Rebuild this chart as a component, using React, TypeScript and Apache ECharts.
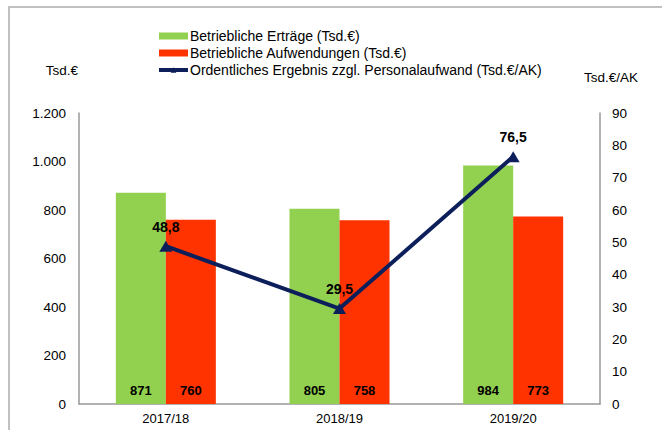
import React, { useEffect, useRef } from "react";
import * as echarts from "echarts";

const categories = ["2017/18", "2018/19", "2019/20"];
const ertraege = [871, 805, 984];
const aufwendungen = [760, 758, 773];
const ergebnis = [48.8, 29.5, 76.5];

const FONT = "Liberation Sans, Arial, sans-serif";
const fmtDE = (v: number) => String(v).replace(/\B(?=(\d{3})+(?!\d))/g, ".");

export default function App() {
  const ref = useRef<HTMLDivElement>(null);
  useEffect(() => {
    const chart = echarts.init(ref.current!, null, { renderer: "svg" });
    chart.setOption({
      animation: false,
      backgroundColor: "#ffffff",
      textStyle: { fontFamily: FONT },
      graphic: [
        {
          type: "rect",
          shape: { x: 9, y: 7, width: 700, height: 500 },
          style: { fill: "none", stroke: "#c0c0c0", lineWidth: 2 },
          silent: true,
        },
        {
          type: "text",
          x: 62,
          y: 70,
          style: { text: "Tsd.€", font: `13.5px ${FONT}`, fill: "#000", align: "center", verticalAlign: "middle" },
        },
        {
          type: "text",
          x: 611,
          y: 77,
          style: { text: "Tsd.€/AK", font: `13.5px ${FONT}`, fill: "#000", align: "center", verticalAlign: "middle" },
        },
      ],
      legend: {
        orient: "vertical",
        left: 152,
        top: 24,
        itemGap: 3,
        itemWidth: 29,
        itemHeight: 7,
        lineStyle: { width: 4 },
        textStyle: { fontFamily: FONT, fontSize: 14, color: "#000", padding: [0, 0, 0, -3] },
        data: [
          { name: "Betriebliche Erträge (Tsd.€)", icon: "rect" },
          { name: "Betriebliche Aufwendungen (Tsd.€)", icon: "rect" },
          { name: "Ordentliches Ergebnis zzgl. Personalaufwand (Tsd.€/AK)" },
        ],
      },
      grid: { left: 79, right: 62, top: 113, bottom: 26, containLabel: false },
      xAxis: {
        type: "category",
        data: categories,
        axisLine: { show: true, lineStyle: { color: "#999", width: 1.5 } },
        axisTick: { show: false },
        axisLabel: { fontFamily: FONT, fontSize: 13, color: "#000", margin: 8 },
      },
      yAxis: [
        {
          type: "value",
          min: 0,
          max: 1200,
          interval: 200,
          axisLine: { show: true, lineStyle: { color: "#999", width: 1.5 } },
          axisTick: { show: false },
          splitLine: { show: false },
          axisLabel: { fontFamily: FONT, fontSize: 13.5, color: "#000", margin: 13, formatter: (v: number) => fmtDE(v) },
        },
        {
          type: "value",
          min: 0,
          max: 90,
          interval: 10,
          position: "right",
          axisLine: { show: true, lineStyle: { color: "#999", width: 1.5 } },
          axisTick: { show: false },
          splitLine: { show: false },
          axisLabel: { fontFamily: FONT, fontSize: 13.5, color: "#000", margin: 12 },
        },
      ],
      series: [
        {
          name: "Betriebliche Erträge (Tsd.€)",
          type: "bar",
          data: ertraege,
          barWidth: 50,
          barGap: "0%",
          itemStyle: { color: "#92d050" },
          label: {
            show: true,
            position: "insideBottom",
            distance: 7,
            fontFamily: FONT,
            fontSize: 13,
            fontWeight: "bold",
            color: "#000",
          },
        },
        {
          name: "Betriebliche Aufwendungen (Tsd.€)",
          type: "bar",
          data: aufwendungen,
          barWidth: 50,
          barGap: "0%",
          itemStyle: { color: "#ff3300" },
          label: {
            show: true,
            position: "insideBottom",
            distance: 7,
            fontFamily: FONT,
            fontSize: 13,
            fontWeight: "bold",
            color: "#000",
          },
        },
        {
          name: "Ordentliches Ergebnis zzgl. Personalaufwand (Tsd.€/AK)",
          type: "line",
          yAxisIndex: 1,
          data: ergebnis,
          symbol: "triangle",
          symbolSize: [13, 11],
          lineStyle: { color: "#0c1f5b", width: 4 },
          itemStyle: { color: "#0c1f5b" },
          label: {
            show: true,
            position: "top",
            distance: 7,
            fontFamily: FONT,
            fontSize: 14,
            fontWeight: "bold",
            color: "#000",
            formatter: (p: any) => String(p.value).replace(".", ","),
          },
          z: 5,
        },
      ],
    });
    return () => chart.dispose();
  }, []);
  return <div ref={ref} style={{ position: "fixed", left: 0, top: 0, width: 662, height: 430 }} />;
}
